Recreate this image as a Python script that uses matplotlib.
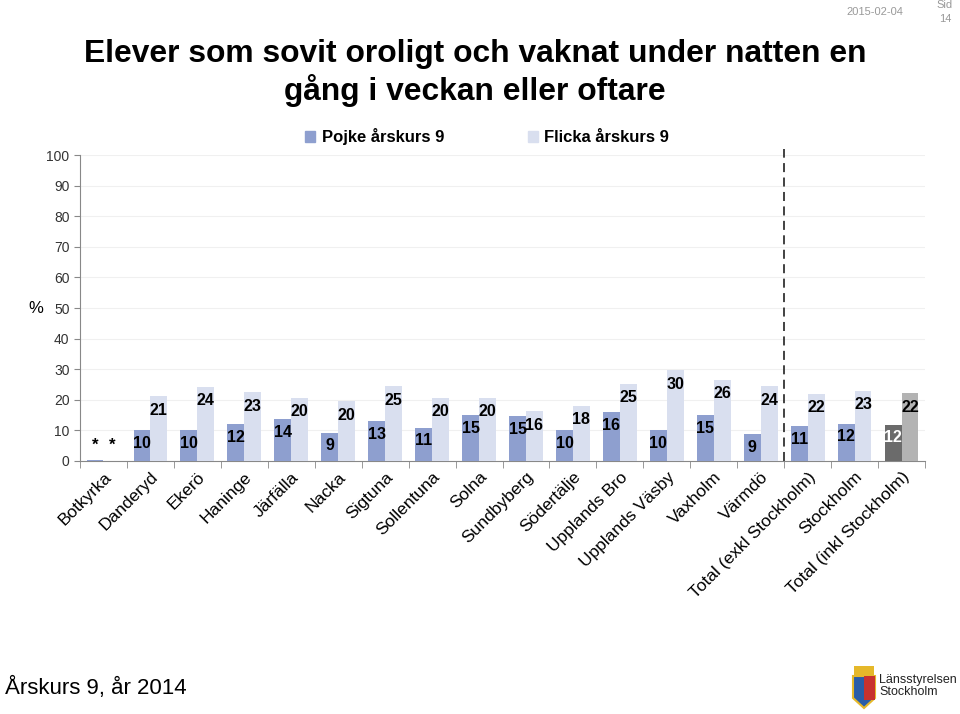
import numpy as np
import matplotlib
matplotlib.use("Agg")
import matplotlib.pyplot as plt
from matplotlib.patches import Rectangle, Polygon

plt.rcParams['font.family'] = ['Liberation Sans', 'DejaVu Sans']

# Data
kommuner = ["Botkyrka", "Danderyd", "Ekerö", "Haninge", "Järfälla", "Nacka",
            "Sigtuna", "Sollentuna", "Solna", "Sundbyberg", "Södertälje",
            "Upplands Bro", "Upplands Väsby", "Vaxholm", "Värmdö",
            "Total (exkl Stockholm)", "Stockholm", "Total (inkl Stockholm)"]
pojke = [0.3, 10.1, 10.0, 12.0, 13.7, 9.2, 13.0, 10.8, 15.0, 14.7, 10.0,
         16.0, 10.0, 15.0, 8.8, 11.4, 12.1, 11.8]
flicka = [0.0, 21.2, 24.2, 22.5, 20.6, 19.6, 24.5, 20.6, 20.6, 16.3, 18.0,
          25.2, 29.7, 26.5, 24.5, 21.9, 22.9, 22.2]
pojke_lbl = ["*", "10", "10", "12", "14", "9", "13", "11", "15", "15", "10",
             "16", "10", "15", "9", "11", "12", "12"]
flicka_lbl = ["*", "21", "24", "23", "20", "20", "25", "20", "20", "16", "18",
              "25", "30", "26", "24", "22", "23", "22"]

c_boy = "#8E9FCF"
c_girl = "#D9DFEF"

fig = plt.figure(figsize=(9.6, 7.14), dpi=100)
ax = fig.add_axes([80/960, 1-461/714, 845/960, 306/714])

x = np.arange(len(kommuner))
w = 0.36
boy_colors = [c_boy]*(len(x)-1) + ["#6B6B6B"]
girl_colors = [c_girl]*(len(x)-1) + ["#B3B3B3"]
ax.bar(x - w/2, pojke, w, color=boy_colors, zorder=3)
ax.bar(x + w/2, flicka, w, color=girl_colors, zorder=3)

for i in x:
    if pojke_lbl[i] == "*":
        ax.text(i - w/2, 5, "*", ha="center", va="center", fontsize=12, fontweight="bold")
        ax.text(i + w/2, 5, "*", ha="center", va="center", fontsize=12, fontweight="bold")
        continue
    col = "white" if i == len(x)-1 else "black"
    ax.annotate(pojke_lbl[i], (i - w/2, pojke[i]), xytext=(0, -13), textcoords="offset pixels",
                ha="center", va="center", fontsize=11.5, fontweight="bold", color=col, zorder=4)
    ax.annotate(flicka_lbl[i], (i + w/2, flicka[i]), xytext=(0, -14), textcoords="offset pixels",
                ha="center", va="center", fontsize=11.5, fontweight="bold", color="black", zorder=4)

ax.set_xlim(-0.5, len(x) - 0.5)
ax.set_ylim(0, 100)
ax.set_yticks(range(0, 101, 10))
ax.tick_params(axis="y", labelsize=10, colors="#333333", length=4, color="#888888")
ax.grid(axis="y", color="#F0F0F0", lw=0.8, zorder=0)
ax.set_xticks(np.arange(len(x) + 1) - 0.5, minor=True)
ax.set_xticks(x)
ax.set_xticklabels(kommuner, rotation=45, ha="right", rotation_mode="anchor", fontsize=12.5)
ax.tick_params(axis="x", which="major", length=0, pad=6)
ax.tick_params(axis="x", which="minor", length=5, color="#888888")
for s in ["top", "right"]:
    ax.spines[s].set_visible(False)
ax.spines["left"].set_color("#888888")
ax.spines["bottom"].set_color("#888888")
ax.set_ylabel("%", rotation=0, fontsize=12, labelpad=8, va="center")

# dashed separator
ax.plot([14.5, 14.5], [0, 102], ls=(0, (5, 3)), color="#333333", lw=1.3, clip_on=False, zorder=5)

# legend
ax.legend([Rectangle((0, 0), 1, 1, color=c_boy), Rectangle((0, 0), 1, 1, color=c_girl)],
          ["Pojke årskurs 9", "Flicka årskurs 9"], loc="center",
          bbox_to_anchor=(0.482, 1.06), ncol=2, frameon=False, handlelength=0.6,
          handleheight=0.6, columnspacing=5, prop={"size": 12, "weight": "bold"},
          handletextpad=0.4)

fig.text(0.495, 1-73/714, "Elever som sovit oroligt och vaknat under natten en\ngång i veckan eller oftare",
         ha="center", va="center", fontsize=22.9, fontweight="bold", linespacing=1.2)
fig.text(5/960, 1-688/714, "Årskurs 9, år 2014", ha="left", va="center", fontsize=16)
fig.text(875/960, 1-12/714, "2015-02-04", ha="center", va="center", fontsize=8, color="#999999")
fig.text(945/960, 1-12/714, "Sid\n14", ha="center", va="center", fontsize=8, color="#999999",
         linespacing=1.4)

# logo
fig.text(879/960, 1-686/714, "Länsstyrelsen\nStockholm", ha="left", va="center",
         fontsize=9, color="#222222", linespacing=1.1)
fig.patches.append(Polygon([(853/960, 1-676/714), (875/960, 1-676/714), (875/960, 1-698/714),
                            (864/960, 1-708/714), (853/960, 1-698/714)], closed=True,
                           transform=fig.transFigure, facecolor="#2A5DA8", edgecolor="#E5B82A", lw=1.5))
fig.patches.append(Rectangle((864/960, 1-700/714), 11/960, 24/714, transform=fig.transFigure,
                             facecolor="#C8322F"))
fig.patches.append(Rectangle((854/960, 1-676/714), 20/960, 10/714, transform=fig.transFigure,
                             facecolor="#E5B82A"))

fig.savefig("out.png", dpi=100)
